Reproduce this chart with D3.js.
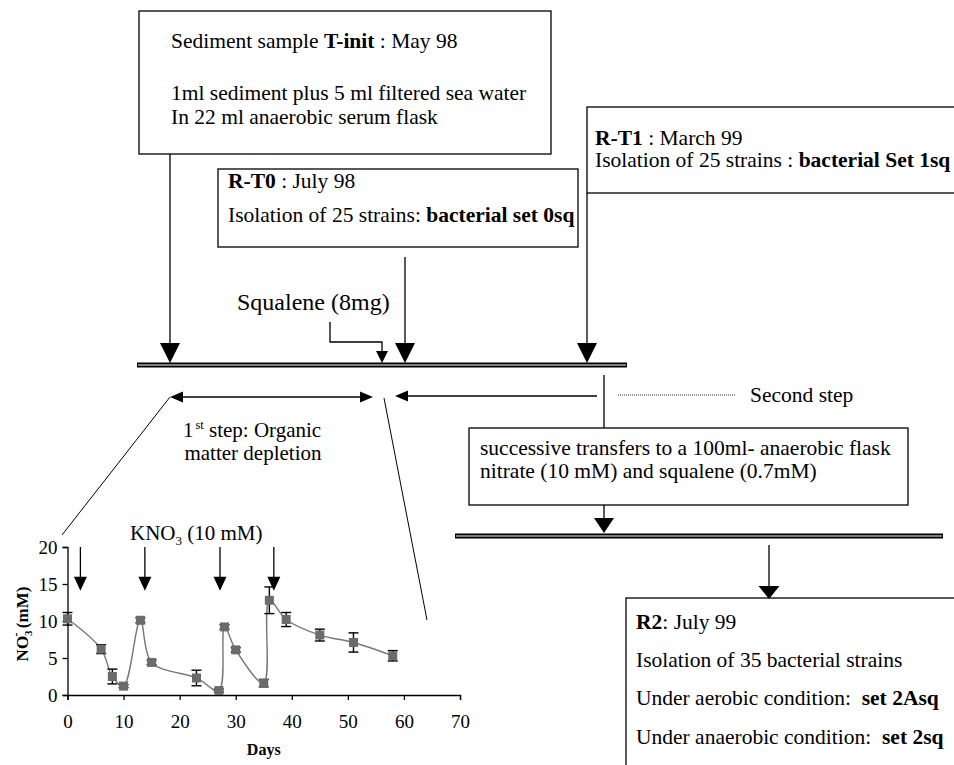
<!DOCTYPE html>
<html>
<head>
<meta charset="utf-8">
<script src="https://cdn.jsdelivr.net/npm/d3@7"></script>
<style>
  body { margin: 0; background: #fff; }
  svg { display: block; }
  svg text { font-family: "Liberation Serif", "Times New Roman", Times, "DejaVu Serif", serif; fill: #000; }
</style>
</head>
<body>
<div id="fig"></div>
<script>
// inset chart data: nitrate during the 1st step
const days = [0, 6, 8, 10, 13, 15, 23, 27, 28, 30, 35, 36, 39, 45, 51, 58];
const nitrate = [10.3, 6.2, 2.5, 1.2, 10.1, 4.4, 2.3, 0.6, 9.2, 6.1, 1.6, 12.8, 10.2, 8.1, 7.1, 5.3];
const nitrateErr = [0.85, 0.6, 1.0, 0.2, 0.35, 0.3, 1.05, 0.2, 0.3, 0.3, 0.5, 1.8, 0.95, 0.8, 1.3, 0.7];
const knoDays = [2.3, 13.8, 27.2, 36.8];
const xTicks = [0, 10, 20, 30, 40, 50, 60, 70];
const yTicks = [0, 5, 10, 15, 20];

const width = 954, height = 765;
const serif = '"Liberation Serif", "Times New Roman", Times, "DejaVu Serif", serif';
const svg = d3.select("#fig").append("svg")
    .attr("width", width)
    .attr("height", height)
    .attr("font-family", serif);

// rich text line: segments are [text, bold]
function richText(x, y, segs, size, anchor) {
    let t = svg.append("text")
        .attr("x", x).attr("y", y)
        .attr("font-family", serif)
        .attr("font-size", size + "px")
        .attr("text-anchor", anchor || "start")
        .attr("xml:space", "preserve");
    segs.forEach(s => {
        t.append("tspan").attr("font-weight", s[1] ? "bold" : "normal").text(s[0]);
    });
    return t;
}

function box(x, y, w, h) {
    svg.append("rect")
        .attr("x", x).attr("y", y).attr("width", w).attr("height", h)
        .attr("fill", "#fff").attr("stroke", "#000").attr("stroke-width", 1.3);
}

function line(x1, y1, x2, y2, w) {
    return svg.append("line")
        .attr("x1", x1).attr("y1", y1).attr("x2", x2).attr("y2", y2)
        .attr("stroke", "#000").attr("stroke-width", w || 1.3);
}

// head pointing down, tip at (x, y)
function headDown(x, y, w, h) {
    svg.append("path")
        .attr("d", `M${x - w / 2},${y - h}L${x + w / 2},${y - h}L${x},${y}Z`)
        .attr("fill", "#000");
}

// head pointing left / right, tip at (x, y)
function headSide(x, y, len, w, dir) {
    svg.append("path")
        .attr("d", `M${x},${y}L${x - dir * len},${y - w / 2}L${x - dir * len},${y + w / 2}Z`)
        .attr("fill", "#000");
}

function doubleLine(x1, x2, y) {
    line(x1, y, x2, y, 5);
    svg.append("line")
        .attr("x1", x1 + 1).attr("y1", y).attr("x2", x2 - 1).attr("y2", y)
        .attr("stroke", "#fff").attr("stroke-width", 1);
}

const fs = 21.5;

// top box
box(139, 11, 412, 143);
richText(171, 48, [["Sediment sample ", false], ["T-init", true], [" : May 98", false]], fs);
richText(171, 100, [["1ml sediment plus 5 ml filtered sea water", false]], fs);
richText(171, 124, [["In 22 ml anaerobic serum flask", false]], fs);
line(170, 154, 170, 345);
headDown(170, 363, 20, 20);

// R-T1 box (runs off the right edge)
box(587, 107, 400, 86);
richText(595, 145, [["R-T1", true], [" : March 99", false]], fs);
richText(595, 167, [["Isolation of 25 strains : ", false], ["bacterial Set 1sq", true]], fs);
line(587, 193, 587, 345);
headDown(587, 363, 20, 20);

// R-T0 box
box(218, 169, 360, 78);
richText(228, 188, [["R-T0", true], [" : July 98", false]], fs);
richText(228, 222, [["Isolation of 25 strains: ", false], ["bacterial set 0sq", true]], fs);
line(405, 257, 405, 345);
headDown(405, 363, 20, 20);

// squalene addition
richText(237, 310, [["Squalene (8mg)", false]], 24);
svg.append("path")
    .attr("d", "M330,322V342H382V352")
    .attr("fill", "none").attr("stroke", "#000").attr("stroke-width", 1.3);
headDown(382, 363, 12, 12);

doubleLine(137, 627, 365);

// 1st step double arrow
line(180, 397, 363, 397);
headSide(170, 397, 13, 11, -1);
headSide(373, 397, 13, 11, 1);
richText(183, 436.5, [["1", false]], 21);
richText(195.5, 428.5, [["st", false]], 12.5);
richText(209, 436.5, [["step: Organic", false]], 21);
richText(253, 460, [["matter depletion", false]], 21, "middle");

// second step
line(405, 396, 597, 396);
headSide(395, 396, 13, 11, -1);
line(604, 375, 604, 428);
svg.append("line")
    .attr("x1", 618).attr("y1", 395).attr("x2", 735).attr("y2", 395)
    .attr("stroke", "#000").attr("stroke-width", 0.8).attr("stroke-dasharray", "1,1");
richText(750, 402, [["Second step", false]], fs);

// transfers box
box(469, 428, 439, 77);
richText(480, 455, [["successive transfers to a 100ml- anaerobic flask", false]], fs);
richText(480, 478, [["nitrate (10 mM) and squalene (0.7mM)", false]], fs);
line(604, 505, 604, 520);
headDown(604, 533, 20, 15);

doubleLine(455, 943, 536);

// R2 box
line(769, 545, 769, 588);
box(626, 598, 400, 200);
headDown(769, 599, 21, 13);
richText(636, 629, [["R2", true], [": July 99", false]], fs);
richText(636, 667, [["Isolation of 35 bacterial strains", false]], fs);
richText(636, 705, [["Under aerobic condition:  ", false], ["set 2Asq", true]], fs);
richText(636, 744, [["Under anaerobic condition:  ", false], ["set 2sq", true]], fs);

// zoom lines to the inset
line(170, 397, 62, 535, 1);
line(384, 398, 427, 620, 1);

// ---- inset chart ----
const xScale = d3.scaleLinear().domain([0, 70]).range([67.5, 460]);
const yScale = d3.scaleLinear().domain([0, 20]).range([695, 547]);

const xAxis = d3.axisBottom(xScale).tickValues(xTicks).tickSize(5).tickPadding(15).tickFormat(d3.format("d"));
const yAxis = d3.axisLeft(yScale).tickValues(yTicks).tickSize(5).tickPadding(5).tickFormat(d3.format("d"));

svg.append("g")
    .attr("class", "x axis")
    .attr("transform", "translate(0," + yScale(0) + ")")
    .call(xAxis);
svg.append("g")
    .attr("class", "y axis")
    .attr("transform", "translate(" + xScale(0) + ",0)")
    .call(yAxis);
svg.selectAll(".axis").attr("font-family", serif).attr("font-size", 19);
svg.selectAll(".axis path, .axis line").attr("stroke", "#000").attr("stroke-width", 1.3);
svg.selectAll(".axis text").attr("fill", "#000");

const dataset = days.map((d, i) => [d, nitrate[i], nitrateErr[i]]);

svg.append("path")
    .datum(dataset)
    .attr("fill", "none")
    .attr("stroke", "#777")
    .attr("stroke-width", 1.4)
    .attr("d", d3.line()
        .x(d => xScale(d[0]))
        .y(d => yScale(d[1]))
        .curve(d3.curveCatmullRom.alpha(0.5)));

// error bars
const eb = svg.append("g").attr("stroke", "#000").attr("stroke-width", 1.4);
dataset.forEach(d => {
    let x = xScale(d[0]);
    let y1 = yScale(d[1] - d[2]), y2 = yScale(d[1] + d[2]);
    eb.append("line").attr("x1", x).attr("x2", x).attr("y1", y1).attr("y2", y2);
    eb.append("line").attr("x1", x - 5).attr("x2", x + 5).attr("y1", y1).attr("y2", y1);
    eb.append("line").attr("x1", x - 5).attr("x2", x + 5).attr("y1", y2).attr("y2", y2);
});

svg.selectAll(".marker")
    .data(dataset)
    .enter()
    .append("rect")
    .attr("class", "marker")
    .attr("x", d => xScale(d[0]) - 4.5)
    .attr("y", d => yScale(d[1]) - 4.5)
    .attr("width", 9)
    .attr("height", 9)
    .attr("fill", "#6b6b6b");

// KNO3 additions
knoDays.forEach(k => {
    line(xScale(k), yScale(20), xScale(k), yScale(15), 1.3);
    headDown(xScale(k), yScale(14.1), 13, 14);
});
svg.append("text")
    .attr("x", 130).attr("y", 540)
    .attr("font-family", serif)
    .attr("font-size", "21px")
    .call(t => {
        t.append("tspan").text("KNO");
        t.append("tspan").attr("font-size", "13px").attr("dy", 5).text("3");
        t.append("tspan").attr("dy", -5).text(" (10 mM)");
    });

// axis titles
svg.append("text")
    .attr("x", xScale(35)).attr("y", 755)
    .attr("font-family", serif)
    .attr("font-size", "16px").attr("font-weight", "bold")
    .style("text-anchor", "middle")
    .text("Days");

svg.append("text")
    .attr("transform", "translate(28,624) rotate(-90)")
    .attr("font-family", serif)
    .attr("font-size", "17px").attr("font-weight", "bold")
    .style("text-anchor", "middle")
    .call(t => {
        t.append("tspan").text("NO");
        t.append("tspan").attr("font-size", "11px").attr("dy", 4).text("3");
        t.append("tspan").attr("font-size", "12px").attr("dx", -6).attr("dy", -12).text("-");
        t.append("tspan").attr("dy", 8).text(" (mM)");
    });
</script>
</body>
</html>
